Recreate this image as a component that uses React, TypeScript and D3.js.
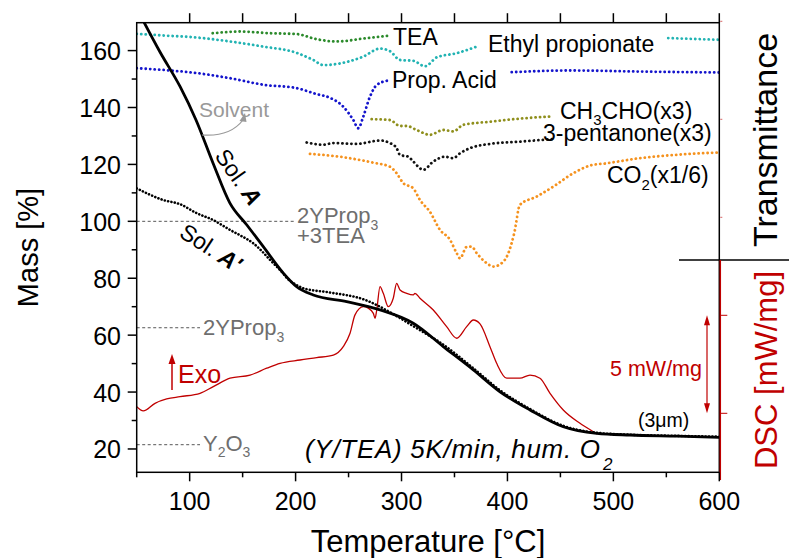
import React from "react";
import * as d3 from "d3";

// ---------- data ----------
// Temperature [°C] vs Mass [%]
const solA: [number, number][] = [
  [54, 172], [72, 159.5], [91, 147.3], [106, 135.6], [122, 120.5], [138, 106.4], [154, 98.7],
  [169.5, 91.1], [188.4, 81.8], [201, 77.0], [216.7, 74.1], [248.2, 71.8], [279.7, 68.9],
  [311.1, 64.2], [339.4, 56.0], [367.8, 47.8], [393, 40.1], [421.3, 33.7], [452.7, 27.8],
  [484.2, 25.5], [515.7, 24.9], [560, 24.5], [600, 24.1],
];
const solAprime: [number, number][] = [
  [50, 111.6], [75, 107.5], [91, 106], [107, 102.8], [122, 100.5], [138, 97], [148, 95],
  [160, 92.3], [170, 88.8], [176, 86.4], [188, 81.8], [192, 80], [201, 77.6], [207, 76.5],
  [232, 75], [264, 72.6], [295, 66.8], [311, 63.2], [340, 56.5], [368, 48.3], [393, 40.6],
  [421, 34.1], [453, 28.1], [484, 25.7], [516, 25.0], [560, 24.6], [600, 24.3],
];
// DSC [mW/mg] (relative)
const dsc: [number, number][] = [
  [50, 0.34], [56.2, 0.12], [67.3, 0.51], [78.3, 0.73], [90.9, 0.85], [109.8, 1.02], [122.3, 1.36],
  [138.1, 1.79], [157, 1.95], [172.7, 2.3], [185.3, 2.55], [204.2, 2.72], [219.9, 2.84],
  [235.6, 2.97], [245, 3.4], [251.4, 4.08], [256.1, 5.02], [263.9, 5.44], [268.6, 5.36],
  [273.4, 5.1], [275, 4.85], [276.6, 5.27], [279.7, 6.46], [282.8, 6.12], [287.5, 5.44],
  [292.2, 5.87], [295.4, 6.63], [298.6, 6.29], [304.9, 6.12], [311.1, 6.04], [312.7, 6.12],
  [317.4, 5.87], [330, 5.27], [342.6, 4.42], [352.1, 3.83], [361.5, 4.42], [367.8, 4.76],
  [374.1, 4.56], [383.5, 3.4], [389.8, 2.55], [399.3, 1.79], [411.8, 1.79], [421.3, 1.95],
  [430.7, 1.79], [440.2, 1.02], [452.7, 0.17], [468.5, -0.51], [481, -0.94], [484.5, -1.06],
];
// IR transmittance traces (arbitrary units, drawn on the mass scale)
const irTEA: [number, number][] = [
  [121.7, 166.1], [147.5, 166.7], [175.8, 166.1], [201, 165.8], [219.9, 164.0], [238.8, 163.2],
  [267.1, 164.4], [287.5, 165.2],
];
const irEthylProp1: [number, number][] = [
  [50, 165.9], [75.1, 165.3], [106.6, 164.6], [138.1, 163.2], [169.5, 161.4], [201, 159.2],
  [216.7, 156.7], [226.2, 154.9], [248.2, 156.0], [263.9, 157.9], [279.7, 160.7], [289.1, 159.8],
  [298.6, 156.7], [311.1, 156.4], [322.2, 154.5], [333.2, 157.6], [352.1, 159.1], [370.3, 161.3],
];
const irEthylProp2: [number, number][] = [[551.8, 164.4], [575, 164.1], [600, 163.8]];
const irPropAcid1: [number, number][] = [
  [50, 153.8], [75.1, 153.2], [106.6, 152.1], [138.1, 150.3], [169.5, 148.0], [201, 146.8],
  [219.9, 144.7], [232.5, 143.4], [245, 140.3], [254.5, 135.6], [259.2, 132.7], [263.9, 136.8],
  [270.2, 143.8], [276.6, 147.9], [287.5, 149.5],
];
const irPropAcid2: [number, number][] = [[404, 152.4], [459, 153.0], [530, 152.6], [600, 152.3]];
const irCH3CHO: [number, number][] = [
  [271.8, 135.9], [289.1, 135.6], [298.6, 133.5], [304.9, 133.5], [314.3, 132.1], [326.9, 130.4],
  [339.4, 132.1], [348.9, 131.6], [358.3, 133.9], [383.5, 135.0], [415, 136.2], [440.2, 136.8],
];
const ir3Pentanone: [number, number][] = [
  [210.5, 127.7], [226.2, 126.9], [235.6, 127.5], [257.7, 127.2], [279.7, 128.4], [289.1, 127.5],
  [295.4, 125.7], [298.6, 123.3], [306.4, 122.7], [311.1, 121.0], [320.6, 118.1], [330, 121.0],
  [341, 122.7], [348.9, 122.2], [355.2, 123.9], [364.6, 125.7], [383.5, 127.2], [411.8, 128.0],
  [444.8, 129.0],
];
const irCO2: [number, number][] = [
  [213.6, 123.7], [241.9, 122.7], [273.4, 120.6], [289.1, 119.2], [295.4, 116.9], [301.7, 113.4],
  [311.1, 111.6], [317.4, 107.5], [326.9, 103.3], [336.3, 97.0], [345.8, 93.5], [352.1, 88.8],
  [355.2, 87.0], [361.5, 91.0], [366.2, 91.1], [371, 88.8], [380.4, 85.3], [386.6, 84.1],
  [394.6, 85.3], [400.5, 88.5], [406.5, 96.0], [411.8, 105.8], [427.6, 108.7], [443.3, 112.2],
  [462.2, 116.9], [478, 119.6], [493.7, 120.4], [525.1, 122.2], [556.6, 123.3], [600, 124.2],
];
// theoretical residual masses
const refLevels = [100, 62.6, 21.5];

const xBottomMajor = [100, 200, 300, 400, 500, 600];
const xBottomMinor = [50, 150, 250, 350, 450, 550];
const xTopTicks = [100, 150, 200, 250, 300, 350, 400, 450, 500, 550, 600];
const yMajor = [20, 40, 60, 80, 100, 120, 140, 160];
const yMinor = [30, 50, 70, 90, 110, 130, 150];
const dscTicks = [0, 5, 10, 15, 20];

const FONT = "'Liberation Sans', Arial, Helvetica, sans-serif";
const RED = "#c00000";

export default function App() {
  const L = 136.7, R = 719.3, T = 22.7, B = 472.3;
  const x = d3.scaleLinear().domain([50, 600]).range([L, R]);
  const y = d3.scaleLinear().domain([11.8, 169.8]).range([B, T]);
  const yd = d3.scaleLinear().domain([0, 5]).range([413.3, 315.3]);

  const line = d3.line<[number, number]>().x((d) => x(d[0])).y((d) => y(d[1])).curve(d3.curveMonotoneX);
  const lineD = d3.line<[number, number]>().x((d) => x(d[0])).y((d) => yd(d[1])).curve(d3.curveMonotoneX);

  const dotted = (data: [number, number][], color: string, key: string) => (
    <path key={key} d={line(data) || ""} fill="none" stroke={color} strokeWidth={2.8}
      strokeLinecap="round" strokeDasharray="0.1 4.4" />
  );

  const gray = "#6e6e6e";

  return (
    <svg width={789} height={558} style={{ position: "absolute", left: 0, top: 0, background: "#fff" }}
      fontFamily={FONT}>
      <defs>
        <clipPath id="plot">
          <rect x={L} y={T} width={R - L} height={B - T} />
        </clipPath>
      </defs>

      {/* reference dashed lines */}
      {refLevels.map((v, i) => (
        <line key={"rl" + i} x1={L} x2={i === 0 ? 294 : 200} y1={y(v)} y2={y(v)}
          stroke="#444" strokeWidth={0.9} strokeDasharray="3 2.5" />
      ))}

      {/* IR traces */}
      <g clipPath="url(#plot)">
        {dotted(irTEA, "#2b8a2b", "tea")}
        {dotted(irEthylProp1, "#22b3b3", "ep1")}
        {dotted(irEthylProp2, "#22b3b3", "ep2")}
        {dotted(irPropAcid1, "#1414cc", "pa1")}
        {dotted(irPropAcid2, "#1414cc", "pa2")}
        {dotted(irCH3CHO, "#8f8f1c", "ch3")}
        {dotted(ir3Pentanone, "#111", "pent")}
        {dotted(irCO2, "#f5921e", "co2")}

        {/* DSC */}
        <path d={lineD(dsc) || ""} fill="none" stroke={RED} strokeWidth={1.3} />

        {/* TG */}
        <path d={line(solAprime) || ""} fill="none" stroke="#000" strokeWidth={2.6}
          strokeLinecap="round" strokeDasharray="0.1 3.3" />
        <path d={line(solA) || ""} fill="none" stroke="#000" strokeWidth={2.8} />
      </g>

      {/* frame */}
      <rect x={L} y={T} width={R - L} height={B - T} fill="none" stroke="#000" strokeWidth={1.5} />
      {/* separator */}
      <line x1={679} x2={789} y1={260} y2={260} stroke="#000" strokeWidth={1.5} />
      {/* DSC axis */}
      <line x1={R + 1} x2={R + 1} y1={260} y2={480} stroke={RED} strokeWidth={1.5} />
      {dscTicks.map((v) => (
        <line key={"dt" + v} x1={R + 1} x2={R + (yd(v) > 260 ? 8 : 3)} y1={yd(v)} y2={yd(v)}
          stroke={RED} strokeWidth={1} opacity={yd(v) > 260 ? 1 : 0.6} />
      ))}

      {/* ticks */}
      {xBottomMajor.map((v) => (
        <line key={"bM" + v} x1={x(v)} x2={x(v)} y1={B} y2={B + 9} stroke="#000" strokeWidth={1.5} />
      ))}
      {xBottomMinor.map((v) => (
        <line key={"bm" + v} x1={x(v)} x2={x(v)} y1={B} y2={B + 5} stroke="#000" strokeWidth={1.5} />
      ))}
      {xTopTicks.map((v) => (
        <line key={"t" + v} x1={x(v)} x2={x(v)} y1={T} y2={T - 9.5} stroke="#000" strokeWidth={1.5} />
      ))}
      {yMajor.map((v) => (
        <line key={"yM" + v} x1={L} x2={L - 9} y1={y(v)} y2={y(v)} stroke="#000" strokeWidth={1.5} />
      ))}
      {yMinor.map((v) => (
        <line key={"ym" + v} x1={L} x2={L - 5} y1={y(v)} y2={y(v)} stroke="#000" strokeWidth={1.5} />
      ))}

      {/* tick labels */}
      {xBottomMajor.map((v) => (
        <text key={"bl" + v} x={x(v)} y={509.5} fontSize={25} textAnchor="middle">{v}</text>
      ))}
      {yMajor.map((v) => (
        <text key={"yl" + v} x={121} y={y(v) + 9.5} fontSize={25} textAnchor="end">{v}</text>
      ))}

      {/* axis titles */}
      <text transform="translate(38,247.5) rotate(-90)" fontSize={29} textAnchor="middle">Mass [%]</text>
      <text x={428} y={551.5} fontSize={31} textAnchor="middle">Temperature [°C]</text>
      <text transform="translate(777,140) rotate(-90)" fontSize={34} textAnchor="middle">Transmittance</text>
      <text transform="translate(777,370) rotate(-90)" fontSize={31} textAnchor="middle" fill={RED}>DSC [mW/mg]</text>

      {/* IR labels */}
      <text x={393} y={45} fontSize={23}>TEA</text>
      <text x={488} y={52} fontSize={23}>Ethyl propionate</text>
      <text x={392} y={88} fontSize={23}>Prop. Acid</text>
      <text x={560} y={119} fontSize={23}>CH<tspan fontSize={15} dy={6}>3</tspan><tspan dy={-6}>CHO(x3)</tspan></text>
      <text x={543} y={141} fontSize={23}>3-pentanone(x3)</text>
      <text x={607} y={183} fontSize={23}>CO<tspan fontSize={15} dy={7}>2</tspan><tspan dy={-7}>(x1/6)</tspan></text>

      {/* solvent */}
      <text x={199} y={117} fontSize={21} fill="#999">Solvent</text>
      <path d="M202,135 Q230,137 243,120" fill="none" stroke="#999" strokeWidth={1.2} />
      <polygon points="245,113 239.5,121 246.5,122" fill="#999" />

      {/* Sol labels */}
      <text transform="translate(214,156) rotate(55)" fontSize={23}>Sol. <tspan fontWeight="bold" fontStyle="italic">A</tspan></text>
      <text transform="translate(178,236) rotate(33)" fontSize={23}>Sol. <tspan fontWeight="bold" fontStyle="italic">A'</tspan></text>

      {/* composition labels */}
      <text x={297} y={223} fontSize={22} fill={gray}>2YProp<tspan fontSize={14} dy={7}>3</tspan></text>
      <text x={297} y={243} fontSize={22} fill={gray}>+3TEA</text>
      <text x={203} y={335} fontSize={22} fill={gray}>2YProp<tspan fontSize={14} dy={7}>3</tspan></text>
      <text x={203} y={451} fontSize={22} fill={gray}>Y<tspan fontSize={14} dy={6}>2</tspan><tspan dy={-6}>O</tspan><tspan fontSize={14} dy={6}>3</tspan></text>

      {/* Exo */}
      <line x1={172} x2={172} y1={390} y2={362} stroke={RED} strokeWidth={1.5} />
      <polygon points="172,354 168.5,364 175.5,364" fill={RED} />
      <text x={178} y={383} fontSize={25} fill={RED}>Exo</text>

      {/* 5 mW/mg */}
      <line x1={707} x2={707} y1={yd(5) + 8} y2={yd(0) - 8} stroke={RED} strokeWidth={1.2} />
      <polygon points={`707,${yd(5)} 704,${yd(5) + 10} 710,${yd(5) + 10}`} fill={RED} />
      <polygon points={`707,${yd(0)} 704,${yd(0) - 10} 710,${yd(0) - 10}`} fill={RED} />
      <text x={610} y={376} fontSize={21.5} fill={RED}>5 mW/mg</text>

      <text x={638} y={427} fontSize={19.5}>(3μm)</text>

      <text x={305} y={458} fontSize={26} fontStyle="italic" textLength={295} lengthAdjust="spacing">(Y/TEA) 5K/min, hum. O</text>
      <text x={603} y={470} fontSize={17} fontStyle="italic">2</text>
    </svg>
  );
}
